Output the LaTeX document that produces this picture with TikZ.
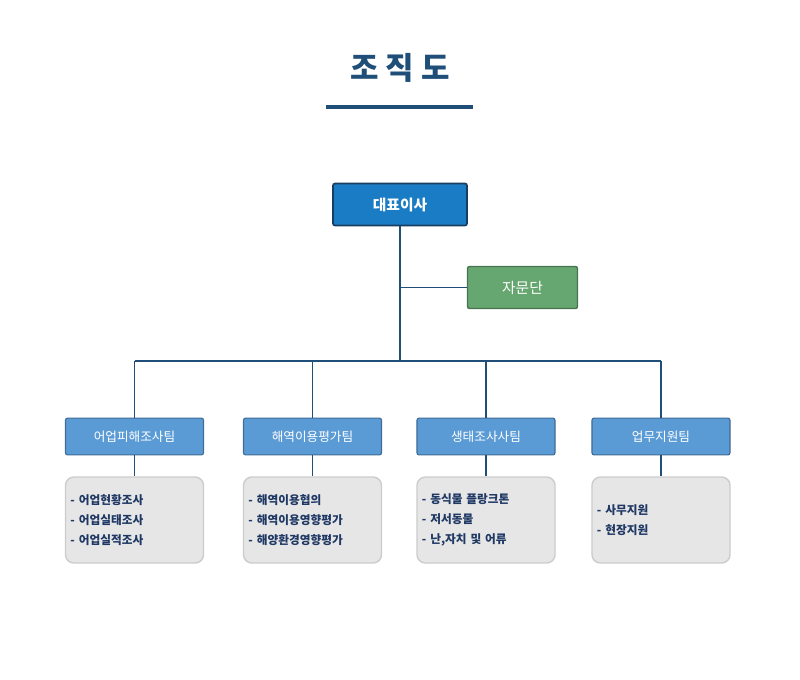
\documentclass[tikz,border=0pt]{standalone}
\usepackage{fontspec}
\setmainfont{Noto Sans CJK KR}
\usetikzlibrary{positioning}
\definecolor{titleBlue}{RGB}{31,78,121}
\definecolor{ceoBlue}{RGB}{26,124,196}
\definecolor{teamBlue}{RGB}{91,155,213}
\definecolor{adviseGreen}{RGB}{102,166,112}
\definecolor{boxGray}{RGB}{230,230,230}
\definecolor{textNavy}{RGB}{31,56,100}
\tikzset{
  px/.style={x=0.025cm,y=-0.025cm},
  link/.style={draw=titleBlue,line width=0.9pt},
  ceo/.style={rectangle,rounded corners=1.5pt,draw=titleBlue!80!black,line width=1.2pt,fill=ceoBlue,text=white,font=\fontsize{10.5}{12}\selectfont\bfseries,minimum width=3.35cm,minimum height=1.05cm},
  advise/.style={rectangle,rounded corners=1.5pt,draw=adviseGreen!70!black,line width=1pt,fill=adviseGreen,text=white,font=\fontsize{10.5}{12}\selectfont,minimum width=2.75cm,minimum height=1.05cm},
  team/.style={rectangle,rounded corners=1.5pt,draw=teamBlue!70!black,line width=0.8pt,fill=teamBlue,text=white,font=\fontsize{9}{11}\selectfont,minimum width=3.45cm,minimum height=0.92cm},
  task/.style={rectangle,rounded corners=6pt,draw=gray!40,line width=1pt,fill=boxGray,text=textNavy,font=\fontsize{8.3}{14}\selectfont\bfseries,minimum width=3.45cm,minimum height=2.15cm,align=left,text width=3.2cm}
}
\begin{document}
\begin{tikzpicture}[px]
\useasboundingbox (0,0) rectangle (800,679);
% title
\node[text=titleBlue,font=\fontsize{22}{26}\selectfont\bfseries] (title) at (400,68) {조 직 도};
\draw[titleBlue,line width=2.2pt] (326,107) -- (473,107);

\node[ceo] (ceo) at (400,204.5) {대표이사};
\node[advise] (advise) at (522.5,287.5) {자문단};
\coordinate (bus) at (400,361);
\coordinate (mid) at (400,287.5);
\draw[link] (ceo) -- (bus);
\draw[link] (mid) -- (advise);

% teams
\node[team] (t1) at (134.5,436.5) {어업피해조사팀};
\node[team] (t2) at (312.5,436.5) {해역이용평가팀};
\node[team] (t3) at (486,436.5) {생태조사사팀};
\node[team] (t4) at (661,436.5) {업무지원팀};

\node[task] (d1) at (134.5,520) {- 어업현황조사\\- 어업실태조사\\- 어업실적조사};
\node[task] (d2) at (312.5,520) {- 해역이용협의\\- 해역이용영향평가\\- 해양환경영향평가};
\node[task] (d3) at (486,520) {- 동식물 플랑크톤\\- 저서동물\\- 난,자치 및 어류};
\node[task] (d4) at (661,520) {- 사무지원\\- 현장지원};

\draw[link] (t1.north |- bus) -- (t4.north |- bus);
\foreach \i in {1,2,3,4}{
  \draw[link] (t\i.north |- bus) -- (t\i.north);
  \draw[link] (t\i) -- (d\i);
}
\end{tikzpicture}
\end{document}
